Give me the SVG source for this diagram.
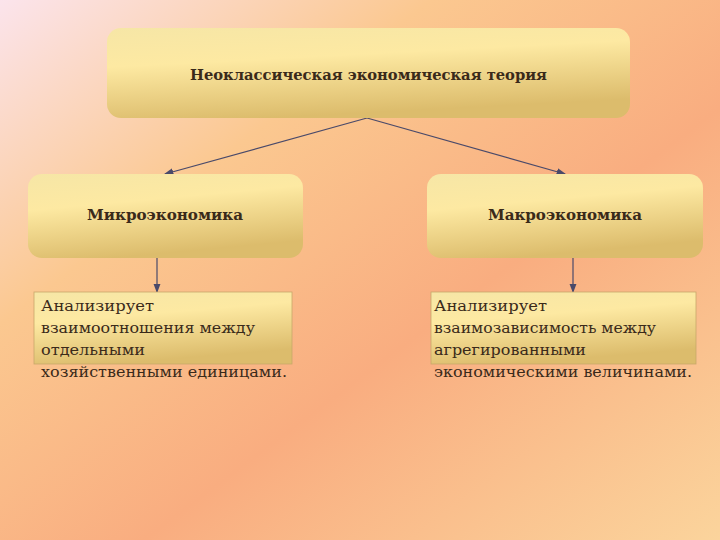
<svg xmlns="http://www.w3.org/2000/svg" width="720" height="540" viewBox="0 0 720 540">
<defs>
<linearGradient id="bg" x1="0" y1="0" x2="1" y2="1">
<stop offset="0" stop-color="#fbe4ec"/><stop offset="0.3" stop-color="#fbc890"/><stop offset="0.6" stop-color="#f9ad80"/><stop offset="1" stop-color="#fbd49c"/>
</linearGradient>
<linearGradient id="box" x1="0" y1="0" x2="0.3" y2="1">
<stop offset="0" stop-color="#f6e6a6"/><stop offset="0.4" stop-color="#fde9a2"/><stop offset="1" stop-color="#dcbc6c"/>
</linearGradient>
<marker id="ar" markerWidth="8" markerHeight="6" refX="7" refY="3" orient="auto"><path d="M0,0 L8,3 L0,6 z" fill="#4a4a6a"/></marker>
<style>
.t{font-family:"DejaVu Serif","Liberation Serif",serif;fill:#3a2a1a}
.h{font-size:14px;font-weight:bold}
.d{font-size:15px}
.c{stroke:#4a4a6a;stroke-width:1.2;fill:none;marker-end:url(#ar)}
</style>
</defs>
<rect width="720" height="540" fill="url(#bg)"/>
<g id="connectors">
<line class="c" x1="367" y1="118" x2="165" y2="174"/>
<line class="c" x1="367" y1="118" x2="565" y2="174"/>
<line class="c" x1="157" y1="258" x2="157" y2="292"/>
<line class="c" x1="573" y1="258" x2="573" y2="292"/>
</g>
<g id="root"><rect x="107" y="28" width="523" height="90" rx="14" fill="url(#box)"/>
<text class="t h" x="190" y="80" textLength="357" lengthAdjust="spacingAndGlyphs">Неоклассическая экономическая теория</text></g>
<g id="micro"><rect x="28" y="174" width="275" height="84" rx="14" fill="url(#box)"/>
<text class="t h" x="87" y="220" textLength="156" lengthAdjust="spacingAndGlyphs">Микроэкономика</text></g>
<g id="macro"><rect x="427" y="174" width="276" height="84" rx="14" fill="url(#box)"/>
<text class="t h" x="488" y="220" textLength="154" lengthAdjust="spacingAndGlyphs">Макроэкономика</text></g>
<g id="microdesc"><rect x="34" y="292" width="258" height="72" fill="url(#box)" stroke="#c9a76a" stroke-width="0.8"/>
<text class="t d" x="41" y="311" textLength="113" lengthAdjust="spacingAndGlyphs">Анализирует</text><text class="t d" x="41" y="333" textLength="214" lengthAdjust="spacingAndGlyphs">взаимоотношения между</text><text class="t d" x="41" y="355" textLength="104" lengthAdjust="spacingAndGlyphs">отдельными</text><text class="t d" x="41" y="377" textLength="246" lengthAdjust="spacingAndGlyphs">хозяйственными единицами.</text></g>
<g id="macrodesc"><rect x="431" y="292" width="265" height="72" fill="url(#box)" stroke="#c9a76a" stroke-width="0.8"/>
<text class="t d" x="434" y="311" textLength="113" lengthAdjust="spacingAndGlyphs">Анализирует</text><text class="t d" x="434" y="333" textLength="222" lengthAdjust="spacingAndGlyphs">взаимозависимость между</text><text class="t d" x="434" y="355" textLength="152" lengthAdjust="spacingAndGlyphs">агрегированными</text><text class="t d" x="434" y="377" textLength="258" lengthAdjust="spacingAndGlyphs">экономическими величинами.</text></g>
</svg>
